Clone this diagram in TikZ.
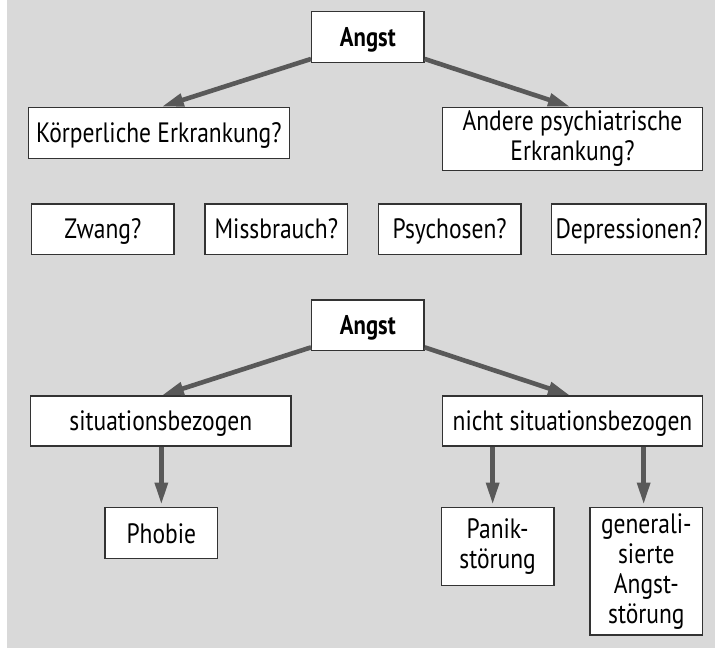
\documentclass[tikz,border=0pt]{standalone}
\usepackage{fontspec}
\setmainfont[FakeStretch=0.84]{PT Sans}
\usetikzlibrary{arrows.meta,calc}
\definecolor{bg}{HTML}{D9D9D9}
\definecolor{arrowgray}{HTML}{595959}
\definecolor{boxline}{HTML}{333333}
\newcommand{\boxstrut}{\rule[-5pt]{0pt}{29.6pt}}
\tikzset{
  box/.style={draw=boxline, line width=1.3pt, fill=white, rectangle, inner sep=0pt,
    align=center, font=\fontsize{28}{30}\selectfont,
    execute at begin node=\boxstrut, execute at end node=\boxstrut},
  boldbox/.style={box, font=\bfseries\fontsize{27}{30}\selectfont},
  arr/.style={draw=arrowgray, line width=4.6pt,
    -{Triangle[length=22pt,width=12.5pt]}}
}
\begin{document}
\begin{tikzpicture}[x=1pt,y=-1pt]
\useasboundingbox (0,0) rectangle (715,648);
\fill[bg] (7,0) rectangle (715,648);

\node[boldbox, minimum width=112.3pt, minimum height=50.6pt] (a1) at (367.85,37) {Angst};
\node[box, minimum width=261pt, minimum height=51pt] (k) at (158.8,132.8) {Körperliche Erkrankung?};
\node[box, minimum width=260.4pt, minimum height=63.4pt] (andere) at (572.5,139) {Andere psychiatrische\\Erkrankung?};

\node[box, minimum width=142.3pt, minimum height=50.3pt] (zwang) at (102.85,229.15) {Zwang?};
\node[box, minimum width=142.7pt, minimum height=50.3pt] (miss) at (276.35,229.15) {Missbrauch?};
\node[box, minimum width=142.7pt, minimum height=50.3pt] (psy) at (449.65,229.15) {Psychosen?};
\node[box, minimum width=154.3pt, minimum height=50.3pt] (dep) at (628.85,229.15) {Depressionen?};

\node[boldbox, minimum width=112.3pt, minimum height=50.7pt] (a2) at (367.85,325.35) {Angst};
\node[box, minimum width=260.3pt, minimum height=50pt] (sit) at (160.85,421) {situationsbezogen};
\node[box, minimum width=260.4pt, minimum height=50pt] (nicht) at (572.5,421) {nicht situationsbezogen};

\node[box, minimum width=112.7pt, minimum height=51pt] (phobie) at (161.35,533.2) {Phobie};
\node[box, minimum width=112.7pt, minimum height=77.6pt] (panik) at (497.65,546.5) {Panik-\\störung};
\node[box, minimum width=112.7pt, minimum height=127.3pt] (gen) at (646.35,571.35) {generali-\\sierte\\Angst-\\störung};

\draw[arr] ($(a1.south west)+(0,-4)$) -- ($(k.north)+(3,0)$);
\draw[arr] ($(a1.south east)+(0,-4)$) -- ($(andere.north)+(-2.5,0)$);
\draw[arr] ($(a2.south west)+(0,-4)$) -- ($(sit.north)+(1,0)$);
\draw[arr] ($(a2.south east)+(0,-4)$) -- ($(nicht.north)+(-2.5,0)$);

\draw[arr, shorten >=2.5pt] (sit.south -| phobie.north) -- (phobie.north);
\draw[arr, shorten >=2.5pt] ($(nicht.south -| panik.north)+(-5,0)$) -- ($(panik.north)+(-5,0)$);
\draw[arr, shorten >=2.5pt] ($(nicht.south -| gen.north)+(-2.7,0)$) -- ($(gen.north)+(-2.7,0)$);
\end{tikzpicture}
\end{document}
